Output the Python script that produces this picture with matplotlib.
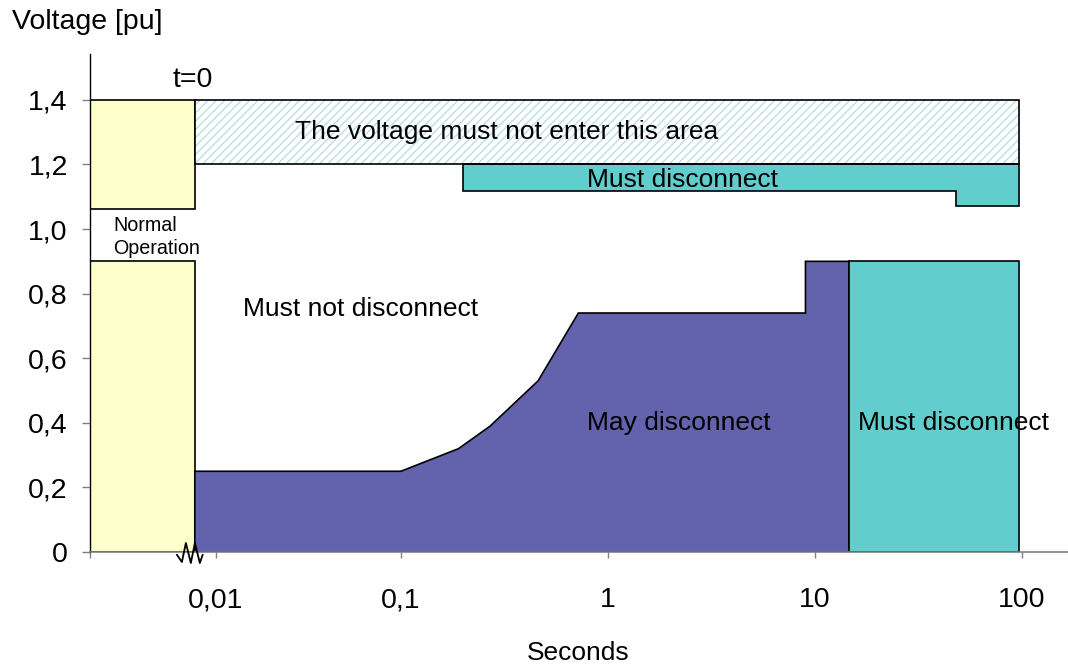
"""Voltage ride-through envelope (pu vs seconds, log time axis with a break at t=0)."""
import matplotlib
matplotlib.use("Agg")
import matplotlib.pyplot as plt
import numpy as np

plt.rcParams["font.family"] = ["Liberation Sans", "DejaVu Sans"]
plt.rcParams["hatch.linewidth"] = 0.9

# time axis: log10, first decade (left of 0.1 s) drawn compressed
K = 185 / 207
X_MIN, X_MAX = 0.00209, 166.8
Y_MIN, Y_MAX = 0.0, 1.542
T0 = 0.0077  # time of the event (right edge of "normal operation")

x_ticks = [X_MIN, 0.01, 0.1, 1, 10, 100]
x_ticklabels = ["", "0,01", "0,1", "1", "10", "100"]
y_ticks = [0, 0.2, 0.4, 0.6, 0.8, 1.0, 1.2, 1.4]
y_ticklabels = ["0", "0,2", "0,4", "0,6", "0,8", "1,0", "1,2", "1,4"]

# normal operation boxes
normal_hi = (1.062, 1.4)
normal_lo = (0.0, 0.9)

# forbidden band
forbid_x = [T0, 97]
forbid_y = (1.2, 1.4)

# over-voltage must-disconnect band
ov_x = [0.2, 0.2, 48, 48, 97, 97]
ov_y = [1.2, 1.118, 1.118, 1.071, 1.071, 1.2]

# under-voltage may-disconnect area
may_x = [T0, T0, 0.1, 0.19, 0.27, 0.46, 0.72, 9, 9, 14.6, 14.6]
may_y = [0, 0.25, 0.25, 0.32, 0.39, 0.53, 0.74, 0.74, 0.9, 0.9, 0]

# under-voltage must-disconnect area
uv_x = [14.6, 97]
uv_y = (0.0, 0.9)

# axis-break zigzag
zig_x = [0.00617, 0.00656, 0.00689, 0.00733, 0.00771, 0.00820, 0.00849]
zig_y = [-0.009, -0.031, 0.028, -0.034, 0.028, -0.034, -0.009]


def fwd(x):
    L = np.log10(np.maximum(x, 1e-12))
    return np.where(L >= -1, L, -1 + (L + 1) * K)


def inv(y):
    return np.where(y >= -1, 10.0 ** y, 10.0 ** (-1 + (y + 1) / K))


fig = plt.figure(figsize=(10.68, 6.72), dpi=100)
ax = fig.add_axes([90 / 1068, 120 / 672, 978 / 1068, 498 / 672])
ax.set_xscale("function", functions=(fwd, inv))
ax.set_xlim(X_MIN, X_MAX)
ax.set_ylim(Y_MIN, Y_MAX)

edge = dict(edgecolor="black", linewidth=1.2)
yellow = "#ffffcc"
ax.fill([X_MIN, T0, T0, X_MIN], [normal_hi[0], normal_hi[0], normal_hi[1], normal_hi[1]],
        facecolor=yellow, zorder=2, **edge)
ax.fill([X_MIN, T0, T0, X_MIN], [normal_lo[0], normal_lo[0], normal_lo[1], normal_lo[1]],
        facecolor=yellow, zorder=2, **edge)

fx = [forbid_x[0], forbid_x[1], forbid_x[1], forbid_x[0]]
fy = [forbid_y[0], forbid_y[0], forbid_y[1], forbid_y[1]]
ax.fill(fx, fy, facecolor="white", edgecolor="#b4dde2", hatch="////", linewidth=0, zorder=2)
ax.fill(fx, fy, facecolor="none", zorder=3, **edge)

ax.fill(ov_x, ov_y, facecolor="#62cdcd", zorder=2, **edge)
ax.fill(may_x, may_y, facecolor="#6262ad", zorder=2, **edge)
ax.fill([uv_x[0], uv_x[1], uv_x[1], uv_x[0]], [uv_y[0], uv_y[0], uv_y[1], uv_y[1]],
        facecolor="#62cdcd", zorder=2, **edge)

ax.plot(zig_x, zig_y, color="black", lw=1.3, clip_on=False, zorder=5)

fs = 19
big = 20.5
ax.text(0.0075, 1.461, "t=0", ha="center", va="center", fontsize=big)
ax.text(0.00278, 0.975, "Normal\nOperation", ha="left", va="center", fontsize=14.2,
        linespacing=1.25)
ax.text(0.325, 1.3, "The voltage must not enter this area", ha="center", va="center",
        fontsize=fs, zorder=4)
ax.text(2.28, 1.152, "Must disconnect", ha="center", va="center", fontsize=fs, zorder=4)
ax.text(0.014, 0.752, "Must not disconnect", ha="left", va="center", fontsize=fs)
ax.text(2.2, 0.40, "May disconnect", ha="center", va="center", fontsize=fs, zorder=4)
ax.text(16.1, 0.40, "Must disconnect", ha="left", va="center", fontsize=fs, zorder=4)

ax.set_xticks(x_ticks)
ax.set_xticklabels(x_ticklabels)
ax.xaxis.set_minor_locator(matplotlib.ticker.NullLocator())
ax.set_yticks(y_ticks)
ax.set_yticklabels(y_ticklabels)
ax.tick_params(axis="x", length=4.5, width=1, color="#808080", pad=21, labelsize=big)
ax.tick_params(axis="y", length=6, width=1, color="#808080", pad=10, labelsize=big)

for s in ("top", "right"):
    ax.spines[s].set_visible(False)
ax.spines["left"].set_color("black")
ax.spines["bottom"].set_color("#808080")
ax.spines["left"].set_linewidth(1.0)
ax.spines["bottom"].set_linewidth(1.2)

fig.text(12 / 1068, 1 - 22 / 672, "Voltage [pu]", ha="left", va="center", fontsize=big)
fig.text(578 / 1068, 1 - 653 / 672, "Seconds", ha="center", va="center", fontsize=19)

fig.savefig("out.png", dpi=100)
